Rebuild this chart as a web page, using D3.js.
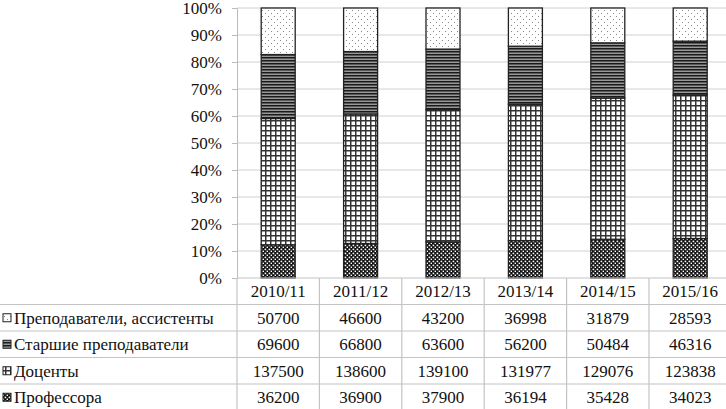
<!DOCTYPE html>
<html><head><meta charset="utf-8">
<script src="https://cdn.jsdelivr.net/npm/d3@7"></script>
</head>
<body style="margin:0;background:#fff">
<svg id="chart" width="726" height="409" style="display:block;font-family:'Liberation Serif'"></svg>
<script>
const years = ["2010/11","2011/12","2012/13","2013/14","2014/15","2015/16"];
const seriesNames = ["Преподаватели, ассистенты","Старшие преподаватели","Доценты","Профессора"];
const assistants = [50700,46600,43200,36998,31879,28593];
const senior = [69600,66800,63600,56200,50484,46316];
const docents = [137500,138600,139100,131977,129076,123838];
const professors = [36200,36900,37900,36194,35428,34023];
const yTicks = [0,0.1,0.2,0.3,0.4,0.5,0.6,0.7,0.8,0.9,1];

const FONT = '"Liberation Serif"';
const FS = 17;
const seriesKeys = ["prof","doc","sen","asst"]; // bottom to top
const seriesData = {asst: assistants, sen: senior, doc: docents, prof: professors};
const tableOrder = ["asst","sen","doc","prof"];
const patternId = {asst:"pAsst", sen:"pSen", doc:"pDoc", prof:"pProf"};

const svg = d3.select("#chart");
const W = 726, H = 409;
const axisX = 237, colW = 82.4;
const plotTop = 8, plotBottom = 278;
const rowH = 26.5;

const defs = svg.append("defs");
let p = defs.append("pattern").attr("id","pProf").attr("patternUnits","userSpaceOnUse").attr("width",4).attr("height",4);
p.append("rect").attr("width",4).attr("height",4).attr("fill","#111");
p.append("rect").attr("x",0.6).attr("y",0.6).attr("width",1.6).attr("height",1.6).attr("fill","#fff");
p.append("rect").attr("x",2.6).attr("y",2.6).attr("width",1.6).attr("height",1.6).attr("fill","#fff");
p = defs.append("pattern").attr("id","pDoc").attr("patternUnits","userSpaceOnUse").attr("width",5).attr("height",5);
p.append("rect").attr("width",5).attr("height",5).attr("fill","#fff");
p.append("rect").attr("x",0).attr("y",0).attr("width",1.5).attr("height",5).attr("fill","#333");
p.append("rect").attr("x",0).attr("y",0).attr("width",5).attr("height",1.5).attr("fill","#333");
p = defs.append("pattern").attr("id","pSen").attr("patternUnits","userSpaceOnUse").attr("width",4).attr("height",3);
p.append("rect").attr("width",4).attr("height",3).attr("fill","#999");
p.append("rect").attr("x",0).attr("y",0).attr("width",4).attr("height",1.5).attr("fill","#1a1a1a");
p = defs.append("pattern").attr("id","pAsst").attr("patternUnits","userSpaceOnUse").attr("width",6).attr("height",6);
p.append("rect").attr("width",6).attr("height",6).attr("fill","#fff");
p.append("rect").attr("x",1).attr("y",1).attr("width",1).attr("height",1).attr("fill","#888");
p.append("rect").attr("x",4).attr("y",4).attr("width",1).attr("height",1).attr("fill","#888");

const x = d3.scaleBand().domain(years).range([axisX, axisX + colW*years.length]).paddingInner(0).paddingOuter(0);
const y = d3.scaleLinear().domain([0,1]).range([plotBottom, plotTop]);
const barW = 34;

svg.append("g").selectAll("line").data(yTicks.slice(1)).join("line")
  .attr("x1", axisX).attr("x2", W).attr("y1", d=>y(d)).attr("y2", d=>y(d))
  .attr("stroke","#d0d0d0").attr("stroke-width",1);

const yAxis = svg.append("g").attr("transform",`translate(${axisX},0)`)
  .call(d3.axisLeft(y).tickValues(yTicks).tickFormat(d3.format(".0%")).tickSize(5).tickPadding(10));
yAxis.attr("font-family", null).attr("font-size", null);
yAxis.select(".domain").attr("stroke","#bbb");
yAxis.selectAll(".tick line").attr("stroke","#bbb");
yAxis.selectAll(".tick text").attr("font-size",FS).style("font-family",FONT).attr("fill","#111");

const rows = years.map((yr,i)=>{
  const o = {year: yr};
  seriesKeys.forEach(k=>o[k]=seriesData[k][i]);
  return o;
});
const stacked = d3.stack().keys(seriesKeys).offset(d3.stackOffsetExpand)(rows);
const bars = svg.append("g");
stacked.forEach(s=>{
  bars.append("g").selectAll("rect").data(s).join("rect")
    .attr("x", d=>x(d.data.year) + x.bandwidth()/2 - barW/2)
    .attr("width", barW)
    .attr("y", d=>y(d[1]))
    .attr("height", d=>y(d[0]) - y(d[1]))
    .attr("fill", `url(#${patternId[s.key]})`)
    .attr("stroke","#222").attr("stroke-width",1.3);
});

const tbl = svg.append("g");
const lineColor = "#c4c4c4";
const rowLines = [0,1,2,3].map(i=>plotBottom + rowH*(i+1));
tbl.selectAll("line.h").data(rowLines).join("line").attr("class","h")
  .attr("x1",0).attr("x2",W).attr("y1",d=>d).attr("y2",d=>d)
  .attr("stroke",lineColor).attr("stroke-width",1.2);
tbl.append("line").attr("x1",axisX).attr("x2",W).attr("y1",plotBottom).attr("y2",plotBottom)
  .attr("stroke",lineColor).attr("stroke-width",1.2);
const vx = d3.range(years.length+1).map(i=>axisX + colW*i);
tbl.selectAll("line.v").data(vx).join("line").attr("class","v")
  .attr("x1",d=>d).attr("x2",d=>d).attr("y1",plotBottom).attr("y2",H)
  .attr("stroke",lineColor).attr("stroke-width",1.2);

function txt(sel){ return sel.attr("font-size",FS).style("font-family",FONT).attr("fill","#111"); }

txt(tbl.selectAll("text.hdr").data(years).join("text").attr("class","hdr")
  .attr("x", d=>x(d)+x.bandwidth()/2).attr("y", plotBottom + rowH/2 + 6)
  .attr("text-anchor","middle").text(d=>d));

const fmt = d3.format("d");
tableOrder.forEach((k,ri)=>{
  const cy = plotBottom + rowH*(ri+1) + rowH/2;
  tbl.append("rect").attr("x",3).attr("y",cy-4).attr("width",8).attr("height",8)
    .attr("fill",`url(#${patternId[k]})`).attr("stroke","#222").attr("stroke-width",1);
  txt(tbl.append("text").attr("x",14).attr("y",cy+6).text(seriesNames[ri]));
  txt(tbl.selectAll(null).data(seriesData[k]).join("text")
    .attr("x",(d,i)=>x(years[i])+x.bandwidth()/2).attr("y",cy+6)
    .attr("text-anchor","middle").text(d=>fmt(d)));
});
</script>
</body></html>
